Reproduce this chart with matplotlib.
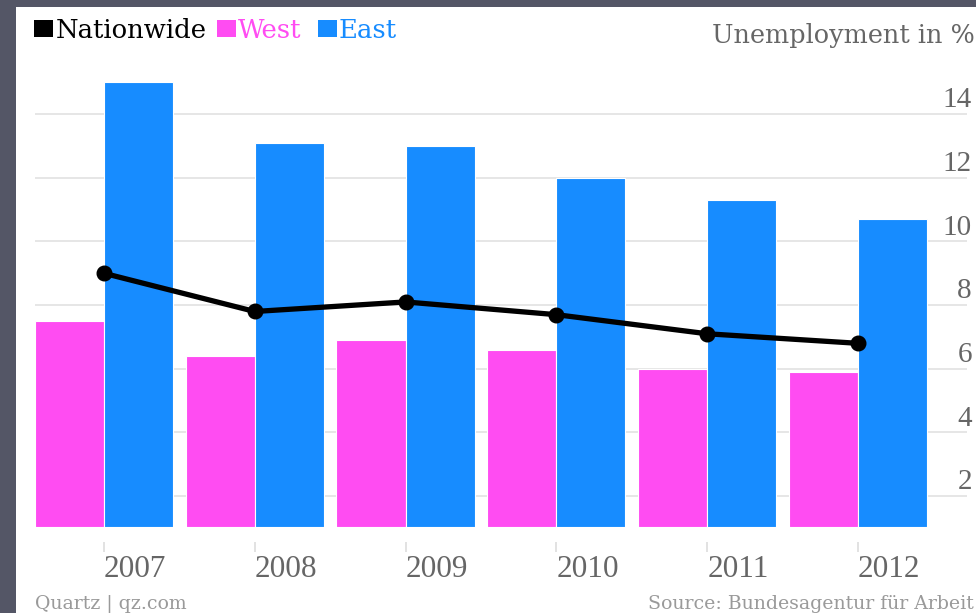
import matplotlib
matplotlib.use("Agg")
import matplotlib.pyplot as plt
from matplotlib.patches import Rectangle
import numpy as np

years = ["2007", "2008", "2009", "2010", "2011", "2012"]
nationwide = [9.0, 7.8, 8.1, 7.7, 7.1, 6.8]
west = [7.5, 6.4, 6.9, 6.6, 6.0, 5.9]
east = [15.0, 13.1, 13.0, 12.0, 11.3, 10.7]
yticks = [2, 4, 6, 8, 10, 12, 14]

C_WEST = "#FF4CF2"
C_EAST = "#178CFF"
C_GRID = "#E2E2E2"
C_TICK = "#666666"
C_FOOT = "#9A9A9A"
C_FRAME = "#545666"
WORD = "DejaVu Serif"
NUM = "Liberation Serif"
BASE = 1.03

W, H = 976, 613
fig = plt.figure(figsize=(W / 100, H / 100), dpi=100, facecolor="white")

# dark frame strips (left, top)
fig.patches.append(Rectangle((0, 0), 16 / W, 1, transform=fig.transFigure,
                             facecolor=C_FRAME, edgecolor="none", zorder=0))
fig.patches.append(Rectangle((0, 1 - 7 / H), 1, 7 / H, transform=fig.transFigure,
                             facecolor=C_FRAME, edgecolor="none", zorder=0))

ax = fig.add_axes([35 / W, (H - 527) / H, 932 / W, 467 / H])
ax.set_facecolor("none")

x = np.arange(len(years))
bw = 0.458
ax.bar(x - bw / 2, np.array(west) - BASE, width=bw, bottom=BASE, color=C_WEST,
       edgecolor="white", linewidth=0.8, zorder=2)
ax.bar(x + bw / 2, np.array(east) - BASE, width=bw, bottom=BASE, color=C_EAST,
       edgecolor="white", linewidth=0.8, zorder=2)
ax.plot(x, nationwide, color="black", linewidth=3.8, marker="o",
        markersize=10.5, zorder=4, solid_capstyle="round")

ax.set_xlim(-0.457, 5.723)
ax.set_ylim(BASE, 15.7)

ax.set_yticks(yticks)
ax.yaxis.grid(True, color=C_GRID, linewidth=1.2, zorder=0)
ax.set_axisbelow(True)
ax.tick_params(axis="y", length=0, labelleft=False, labelright=False)
for v in yticks:
    ax.annotate(str(v), xy=(1, v), xycoords=ax.get_yaxis_transform(),
                xytext=(3.6, 5), textcoords="offset points", ha="right",
                va="baseline", fontsize=21, family=NUM, color=C_TICK)

for s in ["left", "right", "top"]:
    ax.spines[s].set_visible(False)
ax.spines["bottom"].set_position(("outward", 10.8))
ax.spines["bottom"].set_color("none")
ax.set_xticks(x)
ax.set_xticklabels(years, fontsize=22.5, family=NUM, color=C_TICK)
ax.tick_params(axis="x", direction="out", length=7.2, width=1.2,
               color="#DDDDDD", pad=2.5)
for lab in ax.get_xticklabels():
    lab.set_horizontalalignment("left")

# legend
def fy(py):
    return (H - py) / H

sq = [(34, 53, "black"), (217, 236, C_WEST), (318, 337, C_EAST)]
for x0, x1, c in sq:
    fig.patches.append(Rectangle((x0 / W, fy(37)), (x1 - x0) / W, 17 / H,
                                 transform=fig.transFigure, facecolor=c,
                                 edgecolor="none"))
fig.text(56 / W, fy(38), "Nationwide", fontsize=18.6, family=WORD,
         color="black", va="baseline", ha="left")
fig.text(238 / W, fy(38), "West", fontsize=18.6, family=WORD,
         color=C_WEST, va="baseline", ha="left")
fig.text(339 / W, fy(38), "East", fontsize=18.6, family=WORD,
         color=C_EAST, va="baseline", ha="left")

fig.text(975 / W, fy(43), "Unemployment in %", fontsize=18.4, family=WORD,
         color=C_TICK, va="baseline", ha="right")

fig.text(35 / W, fy(609), "Quartz | qz.com", fontsize=13.6, family=WORD,
         color=C_FOOT, va="baseline", ha="left")
fig.text(974 / W, fy(609), "Source: Bundesagentur für Arbeit", fontsize=13.6,
         family=WORD, color=C_FOOT, va="baseline", ha="right")

fig.savefig("out.png", dpi=100, facecolor="white")
